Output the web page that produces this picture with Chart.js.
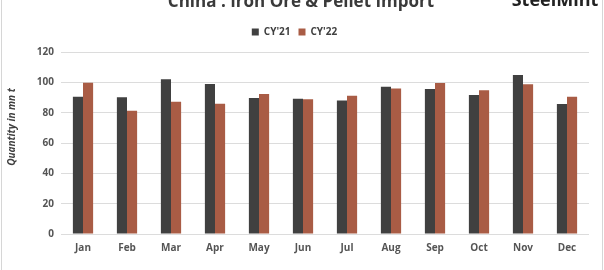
<!DOCTYPE html>
<html>
<head>
<meta charset="utf-8">
<script src="https://cdn.jsdelivr.net/npm/chart.js@4/dist/chart.umd.min.js"></script>
<style>
  html, body { margin: 0; padding: 0; background: #fff; }
  #wrap { width: 604px; height: 270px; position: relative; }
</style>
</head>
<body>
<div id="wrap"><canvas id="chart" width="604" height="270"></canvas></div>
<script>
// data (mn t)
var months = ['Jan', 'Feb', 'Mar', 'Apr', 'May', 'Jun', 'Jul', 'Aug', 'Sep', 'Oct', 'Nov', 'Dec'];
var cy21 = [90.5, 90.1, 102.0, 98.9, 89.7, 89.2, 88.1, 97.1, 95.6, 91.6, 104.8, 85.7];
var cy22 = [99.7, 81.3, 87.2, 85.9, 92.3, 88.8, 91.2, 96.0, 99.5, 94.7, 98.7, 90.5];
var yTicks = [0, 20, 40, 60, 80, 100, 120];

var FONT = "'Open Sans', 'DejaVu Sans', sans-serif";

// title, logo, axis title and frame drawn on the canvas
var decor = {
  id: 'decor',
  afterInit: function (chart) {
    // a bit more room under the legend
    var legend = chart.legend;
    if (legend) {
      var fit = legend.fit;
      legend.fit = function () {
        fit.call(this);
        this.height += 5;
      };
    }
  },
  afterDraw: function (chart) {
    var c = chart.ctx;
    c.save();
    c.fillStyle = '#3a3a3a';
    c.textAlign = 'center';
    c.textBaseline = 'alphabetic';
    c.font = 'bold 17px ' + FONT;
    c.fillText('China : Iron Ore & Pellet Import', 301, 7);
    c.font = 'bold 18px ' + FONT;
    c.fillStyle = '#222';
    c.fillText('SteelMint', 555, 6);

    c.translate(15, 127);
    c.rotate(-Math.PI / 2);
    c.font = 'italic bold 10px ' + FONT;
    c.fillStyle = '#404040';
    c.fillText('Quantity in mn t', 0, 0);
    c.restore();

    c.save();
    c.strokeStyle = '#d6d6d6';
    c.lineWidth = 1;
    c.beginPath();
    c.moveTo(1.5, 0); c.lineTo(1.5, 270);
    c.moveTo(602.5, 0); c.lineTo(602.5, 270);
    c.stroke();
    c.restore();
  }
};

var ctx = document.getElementById('chart').getContext('2d');
var chart = new Chart(ctx, {
  type: 'bar',
  data: {
    labels: months,
    datasets: [{
      label: "CY'21",
      data: cy21,
      backgroundColor: '#404040',
      categoryPercentage: 0.46,
      barPercentage: 1.0
    }, {
      label: "CY'22",
      data: cy22,
      backgroundColor: '#a95c45',
      categoryPercentage: 0.46,
      barPercentage: 1.0
    }]
  },
  plugins: [decor],
  options: {
    responsive: false,
    animation: false,
    devicePixelRatio: 1,
    layout: { padding: { top: 19, left: 0, right: 15, bottom: 8 } },
    plugins: {
      tooltip: { enabled: false },
      title: { display: false },
      legend: {
        position: 'top',
        align: 'center',
        labels: {
          boxWidth: 7,
          boxHeight: 7,
          padding: 8,
          color: '#404040',
          font: { family: FONT, size: 10, weight: 'bold' }
        }
      }
    },
    scales: {
      x: {
        grid: { display: false, drawTicks: false },
        border: { display: false },
        ticks: {
          color: '#555',
          padding: 8,
          maxRotation: 0,
          font: { family: FONT, size: 10, weight: 'bold' }
        }
      },
      y: {
        min: 0,
        max: 120,
        afterBuildTicks: function (axis) {
          axis.ticks = yTicks.map(function (v) { return { value: v }; });
        },
        afterFit: function (axis) { axis.width = 61; },
        grid: { color: '#dcdcdc', lineWidth: 1, drawTicks: false },
        border: { display: false },
        ticks: {
          color: '#555',
          padding: 7,
          font: { family: FONT, size: 10, weight: 'bold' }
        }
      }
    }
  }
});
</script>
</body>
</html>
